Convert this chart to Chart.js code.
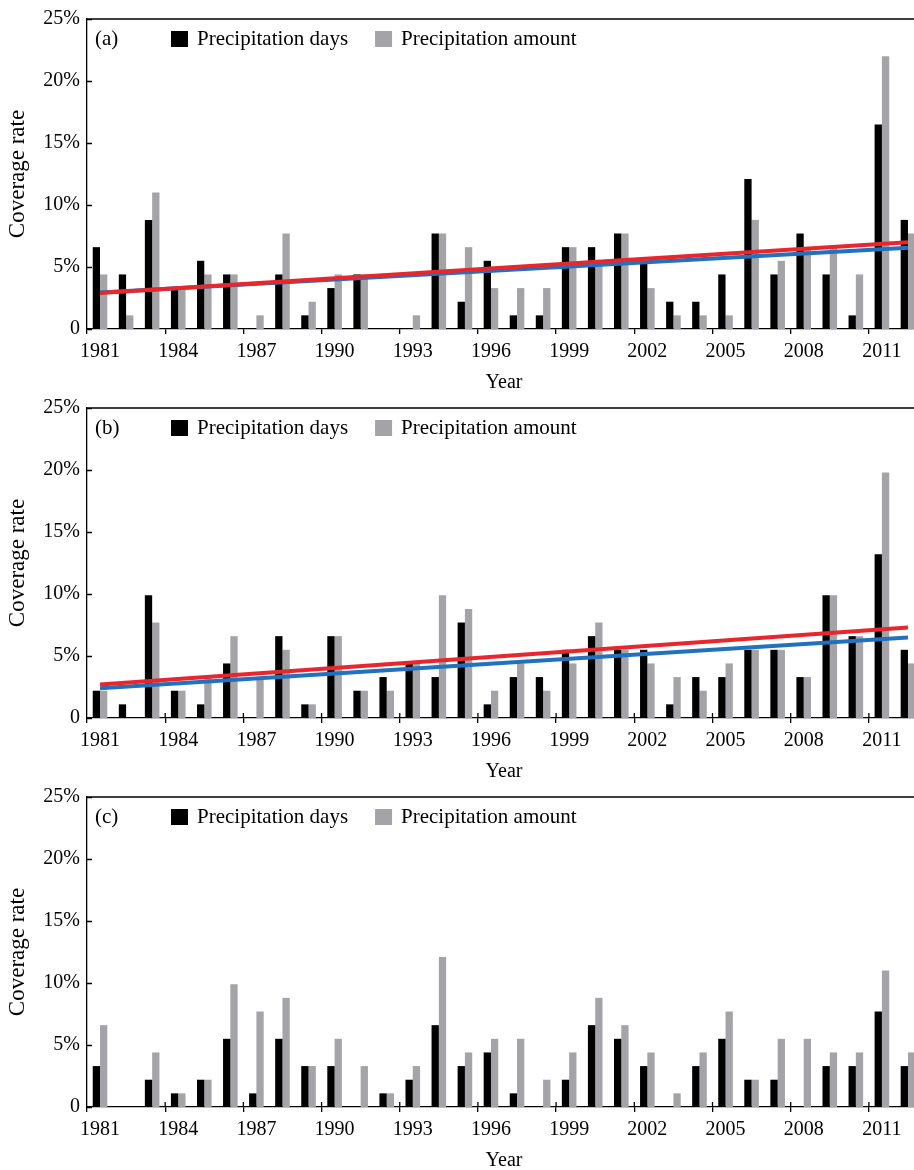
<!DOCTYPE html>
<html lang="en">
<head>
    <meta charset="UTF-8">
    <title>Coverage rate of precipitation days and amount</title>
    <script src="https://cdn.jsdelivr.net/npm/chart.js"></script>
    <style>
        body {
            margin: 0;
            background: #fff;
            overflow: hidden;
        }
        .panel {
            position: absolute;
            left: 0;
            width: 925px;
            height: 393px;
        }
    </style>
</head>
<body>
    <div class="panel" style="top:0px"><canvas id="chartA" width="925" height="393"></canvas></div>
    <div class="panel" style="top:389px"><canvas id="chartB" width="925" height="393"></canvas></div>
    <div class="panel" style="top:778px"><canvas id="chartC" width="925" height="393"></canvas></div>

    <script>
        // years on the x axis
        const years = ['1981','1982','1983','1984','1985','1986','1987','1988','1989','1990',
                       '1991','1992','1993','1994','1995','1996','1997','1998','1999','2000',
                       '2001','2002','2003','2004','2005','2006','2007','2008','2009','2010',
                       '2011','2012'];
        const yTickLabels = ['0', '5%', '10%', '15%', '20%', '25%'];

        // panel (a)
        const daysA = [6.6, 4.4, 8.8, 3.3, 5.5, 4.4, 0, 4.4, 1.1, 3.3, 4.4, 0, 0, 7.7, 2.2, 5.5,
                       1.1, 1.1, 6.6, 6.6, 7.7, 5.5, 2.2, 2.2, 4.4, 12.1, 4.4, 7.7, 4.4, 1.1, 16.5, 8.8];
        const amountA = [4.4, 1.1, 11, 3.3, 4.4, 4.4, 1.1, 7.7, 2.2, 4.4, 4.4, 0, 1.1, 7.7, 6.6, 3.3,
                         3.3, 3.3, 6.6, 5.5, 7.7, 3.3, 1.1, 1.1, 1.1, 8.8, 5.5, 6.6, 6.6, 4.4, 22, 7.7];

        // panel (b)
        const daysB = [2.2, 1.1, 9.9, 2.2, 1.1, 4.4, 0, 6.6, 1.1, 6.6, 2.2, 3.3, 4.4, 3.3, 7.7, 1.1,
                       3.3, 3.3, 5.5, 6.6, 5.5, 5.5, 1.1, 3.3, 3.3, 5.5, 5.5, 3.3, 9.9, 6.6, 13.2, 5.5];
        const amountB = [2.2, 0, 7.7, 2.2, 3.3, 6.6, 3.3, 5.5, 1.1, 6.6, 2.2, 2.2, 4.4, 9.9, 8.8, 2.2,
                         4.4, 2.2, 4.4, 7.7, 5.5, 4.4, 3.3, 2.2, 4.4, 5.5, 5.5, 3.3, 9.9, 6.6, 19.8, 4.4];

        // panel (c)
        const daysC = [3.3, 0, 2.2, 1.1, 2.2, 5.5, 1.1, 5.5, 3.3, 3.3, 0, 1.1, 2.2, 6.6, 3.3, 4.4,
                       1.1, 0, 2.2, 6.6, 5.5, 3.3, 0, 3.3, 5.5, 2.2, 2.2, 0, 3.3, 3.3, 7.7, 3.3];
        const amountC = [6.6, 0, 4.4, 1.1, 2.2, 9.9, 7.7, 8.8, 3.3, 5.5, 3.3, 1.1, 3.3, 12.1, 4.4, 5.5,
                         5.5, 2.2, 4.4, 8.8, 6.6, 4.4, 1.1, 4.4, 7.7, 2.2, 5.5, 5.5, 4.4, 4.4, 11, 4.4];

        // trend lines (start and end year)
        const trendYears = ['1981', '2012'];
        const trendDaysA = [2.95, 6.55];
        const trendAmountA = [2.9, 7.0];
        const trendDaysB = [2.4, 6.5];
        const trendAmountB = [2.7, 7.3];

        const FONT = '"Liberation Serif", "Times New Roman", serif';
        Chart.defaults.font.family = FONT;
        Chart.defaults.font.size = 20;
        Chart.defaults.color = '#000';

        // frame, inner ticks, panel tag and legend inside the plot
        const panelDecor = {
            id: 'panelDecor',
            afterDraw(chart, args, opts) {
                const ctx = chart.ctx;
                const a = chart.chartArea;
                const y = chart.scales.y;
                const x = chart.scales.x;
                ctx.save();
                ctx.strokeStyle = '#000';
                ctx.lineWidth = 1.3;
                ctx.beginPath();
                ctx.moveTo(a.left, a.top);
                ctx.lineTo(a.right, a.top);
                ctx.lineTo(a.right, a.bottom);
                y.ticks.forEach(t => {
                    const py = Math.round(y.getPixelForValue(t.value)) + 0.5;
                    ctx.moveTo(a.left, py);
                    ctx.lineTo(a.left + 5, py);
                });
                if (opts.innerX) {
                    for (let i = 3; i < years.length; i += 3) {
                        const px = (x.getPixelForValue(i - 1) + x.getPixelForValue(i)) / 2;
                        ctx.moveTo(px, a.bottom);
                        ctx.lineTo(px, a.bottom - 5);
                    }
                }
                ctx.stroke();

                ctx.font = '21px ' + FONT;
                ctx.textBaseline = 'middle';
                ctx.fillStyle = '#000';
                const cy = a.top + 20;
                ctx.fillText(opts.tag, a.left + 8, cy);
                let lx = a.left + 84;
                chart.data.datasets.filter(d => d.type !== 'line').forEach(d => {
                    ctx.fillStyle = d.backgroundColor;
                    ctx.fillRect(lx, cy - 8, 17, 16);
                    ctx.fillStyle = '#000';
                    ctx.fillText(d.label, lx + 26, cy);
                    lx += 26 + ctx.measureText(d.label).width + 27;
                });
                ctx.restore();
            }
        };

        function trendData(vals) {
            return trendYears.map((yr, i) => ({ x: yr, y: vals[i] }));
        }

        function makeChart(id, tag, days, amount, trendDays, trendAmount) {
            const datasets = [
                { label: 'Precipitation days', data: days, backgroundColor: '#000000', order: 3 },
                { label: 'Precipitation amount', data: amount, backgroundColor: '#a4a4a8', order: 3 }
            ];
            if (trendDays) {
                datasets.push({ type: 'line', label: 'Trend of days', data: trendData(trendDays),
                    borderColor: '#2271bf', borderWidth: 4, pointRadius: 0, order: 2 });
                datasets.push({ type: 'line', label: 'Trend of amount', data: trendData(trendAmount),
                    borderColor: '#e8262b', borderWidth: 4, pointRadius: 0, order: 1 });
            }
            return new Chart(document.getElementById(id), {
                type: 'bar',
                data: { labels: years, datasets: datasets },
                options: {
                    responsive: false,
                    animation: false,
                    layout: { padding: { top: 15, right: 4, left: 0, bottom: 0 } },
                    datasets: {
                        bar: { categoryPercentage: 0.56, barPercentage: 1.0, borderWidth: 0 }
                    },
                    plugins: {
                        legend: { display: false },
                        tooltip: { enabled: false },
                        panelDecor: { tag: tag, innerX: tag !== '(a)' }
                    },
                    scales: {
                        x: {
                            grid: {
                                offset: true,
                                drawOnChartArea: false,
                                tickLength: 5,
                                lineWidth: 1.3,
                                color: c => (c.index % 3 === 0 ? '#000' : 'rgba(0,0,0,0)')
                            },
                            border: { display: true, color: '#000', width: 1.3 },
                            ticks: {
                                autoSkip: false,
                                maxRotation: 0,
                                padding: 6,
                                callback: (v, i) => (i % 3 === 0 ? years[i] : '')
                            },
                            title: { display: true, text: 'Year', padding: { top: 0, bottom: -2 } },
                            afterFit: s => { s.height = 64; }
                        },
                        y: {
                            min: 0,
                            max: 25,
                            grid: { display: false, drawTicks: false },
                            border: { display: true, color: '#000', width: 1.3 },
                            ticks: {
                                stepSize: 5,
                                padding: 7,
                                callback: (v, i) => yTickLabels[i]
                            },
                            title: { display: true, text: 'Coverage rate', font: { size: 23 } },
                            afterFit: s => { s.width = 87; }
                        }
                    }
                },
                plugins: [panelDecor]
            });
        }

        makeChart('chartA', '(a)', daysA, amountA, trendDaysA, trendAmountA);
        makeChart('chartB', '(b)', daysB, amountB, trendDaysB, trendAmountB);
        makeChart('chartC', '(c)', daysC, amountC, null, null);
    </script>
</body>
</html>
